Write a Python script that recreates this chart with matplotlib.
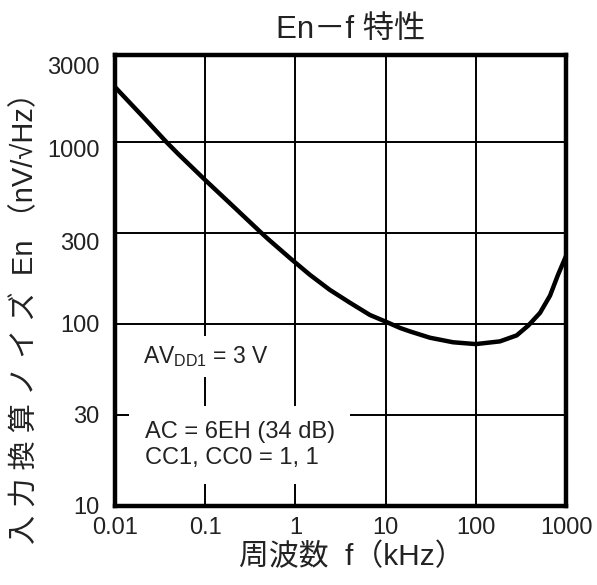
import numpy as np
import matplotlib
matplotlib.use('Agg')
import matplotlib.pyplot as plt
import matplotlib.transforms as mtransforms

plt.rcParams['font.family'] = ['Liberation Sans', 'Noto Sans CJK JP', 'DejaVu Sans']
plt.rcParams['mathtext.fontset'] = 'custom'
plt.rcParams['mathtext.rm'] = 'Liberation Sans'

# values (kHz, nV/rtHz)
freq = [0.01, 0.02, 0.037, 0.05, 0.1, 0.2, 0.42, 0.5, 0.87, 1.45, 2.4, 4.0,
        6.7, 10, 14.5, 18.6, 31, 56, 100, 185, 284, 382, 515, 665, 815, 1000]
en = [2000, 1390, 1000, 860, 617, 447, 316, 292, 230, 186, 154, 131,
      112, 103, 95, 91, 84, 79.3, 77.5, 80.2, 86.5, 98, 115, 143, 186, 236]

x_ticks = [0.01, 0.1, 1, 10, 100, 1000]
x_labels = ['0.01', '0.1', '1', '10', '100', '1000']
y_ticks = [10, 10 ** 1.5, 100, 10 ** 2.5, 1000, 3000]
y_labels = ['10', '30', '100', '300', '1000', '3000']
y_label_shift = [0, 0, 0, -9, -7, -10]  # px, labels sit a bit low in the original

fig = plt.figure(figsize=(5.97, 5.85), dpi=100)
ax = fig.add_axes([115 / 597, 1 - 506 / 585, 451 / 597, 451 / 585])

ax.plot(freq, en, color='black', lw=3.2, solid_joinstyle='round', zorder=4)

ax.set_xscale('log')
ax.set_yscale('log')
ax.set_xlim(0.01, 1000)
ax.set_ylim(10, 3000)
ax.minorticks_off()
ax.set_xticks(x_ticks)
ax.set_xticklabels(x_labels)
ax.set_yticks(y_ticks)
ax.set_yticklabels(y_labels)
ax.tick_params(length=0, labelsize=17, colors='#222222')
ax.tick_params(axis='x', pad=8)
ax.tick_params(axis='y', pad=11)
ax.grid(True, color='black', lw=1.4)
ax.set_axisbelow(True)
for s in ax.spines.values():
    s.set_linewidth(3.2)

for lab, dy in zip(ax.get_yticklabels(), y_label_shift):
    off = mtransforms.ScaledTranslation(0, dy / 100, fig.dpi_scale_trans)
    lab.set_transform(lab.get_transform() + off)

ax.text(0.523, 1.055, 'En－f 特性', transform=ax.transAxes, ha='center',
        va='center', fontsize=22.5, color='#222222')
ax.set_xlabel('周波数  f（kHz）', fontsize=21.5, color='#222222')
ax.xaxis.set_label_coords(0.524, -0.113)
ax.xaxis.label.set_va('center')
# the original is set with wide letter spacing
ax.set_ylabel('入 力 換 算 ノ イ ズ  En （nV/√Hz）', fontsize=21, color='#222222')
ax.yaxis.set_label_coords(-0.2, 0.432)
ax.yaxis.label.set_va('center')

ax.text(0.063, 0.331, 'AV$_{\\mathregular{DD1}}$ = 3 V', transform=ax.transAxes,
        fontsize=16.5, color='#222222', va='center', ha='left',
        bbox=dict(facecolor='white', edgecolor='none', pad=6), zorder=3)
ax.text(0.066, 0.135, 'AC = 6EH (34 dB)\nCC1, CC0 = 1, 1', transform=ax.transAxes,
        fontsize=17, color='#222222', va='center', ha='left', linespacing=1.2,
        bbox=dict(facecolor='white', edgecolor='none', pad=11), zorder=3)

fig.savefig('out.png', dpi=100)
